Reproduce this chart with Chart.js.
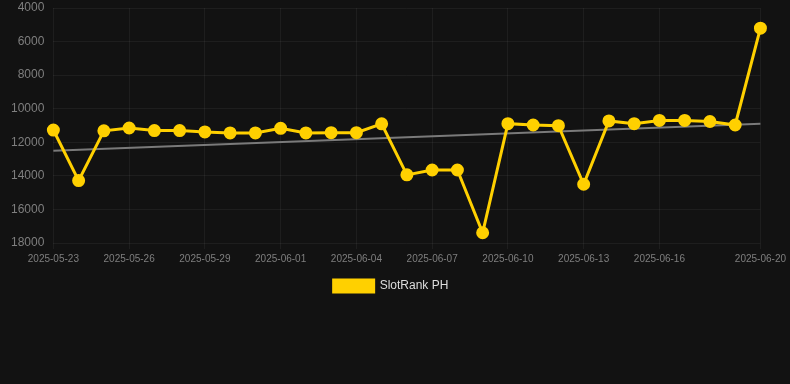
<!DOCTYPE html>
<html>
<head>
<meta charset="utf-8">
<script src="https://cdn.jsdelivr.net/npm/chart.js@4/dist/chart.umd.min.js"></script>
<style>
html,body{margin:0;padding:0;background:#121212;width:790px;height:384px;overflow:hidden;}
#wrap{width:790px;height:302px;}
</style>
</head>
<body>
<div id="wrap"><canvas id="c" width="790" height="302"></canvas></div>
<script>
const categories = ['2025-05-23','2025-05-24','2025-05-25','2025-05-26','2025-05-27','2025-05-28','2025-05-29','2025-05-30','2025-05-31','2025-06-01','2025-06-02','2025-06-03','2025-06-04','2025-06-05','2025-06-06','2025-06-07','2025-06-08','2025-06-09','2025-06-10','2025-06-11','2025-06-12','2025-06-13','2025-06-14','2025-06-15','2025-06-16','2025-06-17','2025-06-18','2025-06-19','2025-06-20'];
const rankValues = [11270,14280,11320,11150,11300,11300,11380,11440,11440,11170,11440,11430,11430,10900,13940,13650,13650,17390,10890,10970,11010,14500,10730,10890,10700,10700,10760,10970,5200];
const trendValues = [12510,null,null,null,null,null,null,null,null,null,null,null,null,null,null,null,null,null,null,null,null,null,null,null,null,null,null,null,10890];
const xTickLabels = ['2025-05-23','2025-05-26','2025-05-29','2025-06-01','2025-06-04','2025-06-07','2025-06-10','2025-06-13','2025-06-16','2025-06-20'];
const yTicks = [4000,6000,8000,10000,12000,14000,16000,18000];

new Chart(document.getElementById('c'), {
  type: 'line',
  data: {
    labels: categories,
    datasets: [
      {
        label: 'SlotRank PH',
        data: rankValues,
        borderColor: '#FFD000',
        backgroundColor: '#FFD000',
        borderWidth: 3,
        pointRadius: 5,
        pointHoverRadius: 5,
        pointBackgroundColor: '#FFD000',
        pointBorderColor: '#FFD000',
        tension: 0,
        order: 1
      },
      {
        label: 'trend',
        data: trendValues,
        spanGaps: true,
        borderColor: '#7a7a7a',
        borderWidth: 2,
        pointRadius: 0,
        pointHoverRadius: 0,
        fill: false,
        order: 2
      }
    ]
  },
  options: {
    responsive: false,
    animation: false,
    clip: false,
    layout: { padding: { top: 2, right: 10, left: 2, bottom: 0 } },
    plugins: {
      legend: {
        position: 'bottom',
        labels: {
          color: '#dddddd',
          font: { family: 'Liberation Sans, Arial, sans-serif', size: 12 },
          boxWidth: 40,
          boxHeight: 12,
          padding: 11,
          filter: (item) => item.text !== 'trend'
        }
      },
      tooltip: { enabled: false }
    },
    scales: {
      x: {
        type: 'category',
        offset: false,
        grid: { color: 'rgba(255,255,255,0.05)', tickLength: 6, drawTicks: true },
        border: { display: false },
        ticks: {
          autoSkip: false,
          maxRotation: 0,
          minRotation: 0,
          color: '#7f7f7f',
          padding: 4,
          font: { family: 'Liberation Sans, Arial, sans-serif', size: 10 },
          callback: function(v, i) {
            const l = categories[i];
            return xTickLabels.includes(l) ? l : null;
          }
        }
      },
      y: {
        reverse: true,
        min: 4000,
        max: 18000,
        afterBuildTicks: (axis) => { axis.ticks = yTicks.map(v => ({ value: v })); },
        afterFit: (s) => { s.paddingTop = 0; s.paddingBottom = 0; },
        grid: { color: 'rgba(255,255,255,0.05)', drawTicks: false },
        border: { display: false },
        ticks: {
          color: '#7f7f7f',
          padding: 9,
          font: { family: 'Liberation Sans, Arial, sans-serif', size: 12 },
          callback: (v) => String(v)
        }
      }
    }
  }
});
</script>
</body>
</html>
